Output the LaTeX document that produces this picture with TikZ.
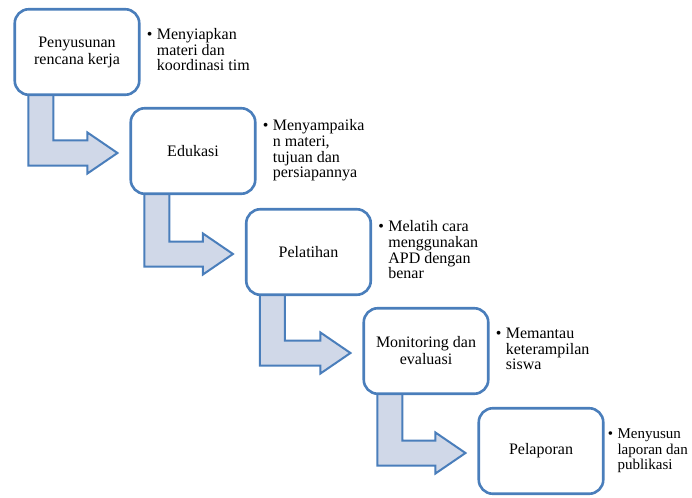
\documentclass[tikz,border=0pt]{standalone}
\usepackage{fontspec}
\setmainfont{Liberation Serif}
\usetikzlibrary{positioning,calc,backgrounds}

\definecolor{biruGaris}{RGB}{74,126,187}
\definecolor{biruIsi}{RGB}{208,216,232}

\tikzset{
  tahap/.style={draw=biruGaris, line width=2.6pt, fill=white, rounded corners=14pt,
    minimum width=124.5pt, minimum height=85.5pt, align=center,
    font=\fontsize{16}{17}\selectfont},
  ket/.style={anchor=west, inner sep=0pt, font=\fontsize{16}{15.5}\selectfont},
  panah/.style={draw=biruGaris, line width=2pt, fill=biruIsi, line join=miter},
}

% butir keterangan dengan tanda bullet
\newcommand{\butir}[1]{\begin{tabular}{@{}l@{\hspace{4.5pt}}l@{}}\textbullet &
  \begin{tabular}[t]{@{}l@{}}#1\end{tabular}\end{tabular}}

\begin{document}
\begin{tikzpicture}[x=1pt, y=-1pt]
  \useasboundingbox (0,0) rectangle (692,497);

  % tahapan kegiatan
  \node[tahap] (b1) at (77,52)    {Penyusunan\\rencana kerja};
  \node[tahap] (b2) at (193,151)  {Edukasi};
  \node[tahap] (b3) at (308.5,252) {Pelatihan};
  \node[tahap] (b4) at (426,351)  {Monitoring dan\\evaluasi};
  \node[tahap] (b5) at (541,451)  {Pelaporan};

  % keterangan
  \node[ket, right=6pt of b1] (k1) {\butir{Menyiapkan\\materi dan\\koordinasi tim}};
  \node[ket, right=6pt of b2] (k2) {\butir{Menyampaika\\n materi,\\tujuan dan\\persiapannya}};
  \node[ket, right=6pt of b3] (k3) {\butir{Melatih cara\\menggunakan\\APD dengan\\benar}};
  \node[ket, right=6pt of b4] (k4) {\butir{Memantau\\keterampilan\\siswa}};
  \node[ket, right=3pt of b5, font=\fontsize{15}{15.5}\selectfont] (k5)
    {\butir{Menyusun\\laporan dan\\publikasi}};

  % panah belok antar tahap
  \begin{pgfonlayer}{background}
    \foreach \dari/\ke in {b1/b2, b2/b3, b3/b4, b4/b5}
      \draw[panah] let \p1=(\dari.south west), \p2=(\ke.west) in
        (\x1+15pt,\y1+3pt) -- (\x1+15pt,\y2-14.5pt) -- (\x2-42pt,\y2-14.5pt)
        -- (\x2-42pt,\y2-22.5pt) -- (\x2-12pt,\y2-2pt) -- (\x2-42pt,\y2+18.5pt)
        -- (\x2-42pt,\y2+10.5pt) -- (\x1+40pt,\y2+10.5pt) -- (\x1+40pt,\y1+3pt) -- cycle;
  \end{pgfonlayer}
\end{tikzpicture}
\end{document}
